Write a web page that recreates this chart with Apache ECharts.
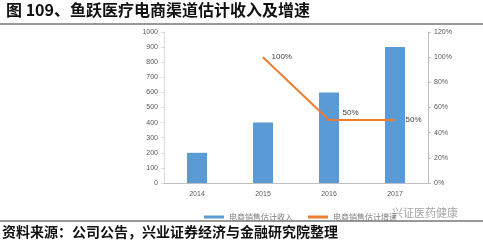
<!DOCTYPE html>
<html><head><meta charset="utf-8">
<script src="https://cdn.jsdelivr.net/npm/echarts@6/dist/echarts.min.js"></script>
<style>html,body{margin:0;padding:0;background:#fff;}#c{width:483px;height:240px;}</style>
</head><body><div id="c"></div>
<script>
const categories = ['2014','2015','2016','2017'];
const revenue = [200, 400, 600, 900];
const growth = [null, 100, 50, 50];
const leftTicks = [0,100,200,300,400,500,600,700,800,900,1000];
const seriesNames = ['电商销售估计收入','电商销售估计增速'];
const titleText = '图 109、鱼跃医疗电商渠道估计收入及增速';
const sourceText = '资料来源：公司公告，兴业证券经济与金融研究院整理';

const labelOffsets = [[0,0],[3,0],[8,-7],[5,0]];
const growthData = growth.map((v, i) => ({value: v, label: {offset: labelOffsets[i]}}));

const chart = echarts.init(document.getElementById('c'));
chart.setOption({
  animation: false,
  backgroundColor: '#fff',
  title: [
    {text: titleText, left: 6, top: 2, padding: 0, textStyle: {fontFamily: 'Noto Sans CJK SC', fontSize: 16, fontWeight: 'bold', color: '#111'}},
    {text: sourceText, left: 2, top: 224, padding: 0, textStyle: {fontFamily: 'Noto Sans CJK SC', fontSize: 14, fontWeight: 'bold', color: '#111', lineHeight: 15}},
    {text: '兴证医药健康', left: 392, top: 207, padding: 0, textStyle: {fontFamily: 'Noto Sans CJK SC', fontSize: 11, fontWeight: 'normal', color: 'rgba(90,90,90,0.55)'}}
  ],
  graphic: [
    {type: 'line', shape: {x1: 0, y1: 24, x2: 483, y2: 24}, style: {stroke: '#333', lineWidth: 1}},
    {type: 'line', shape: {x1: 0, y1: 221, x2: 483, y2: 221}, style: {stroke: '#333', lineWidth: 1}}
  ],
  legend: {
    data: seriesNames, top: 208, left: 199, itemWidth: 20, itemHeight: 3, itemGap: 15,
    textStyle: {fontSize: 8, color: '#7f7f7f', fontFamily: 'Noto Sans CJK SC'},
    icon: 'rect'
  },
  grid: {left: 164, right: 55, top: 32, bottom: 57},
  xAxis: {
    type: 'category', data: categories,
    axisLine: {lineStyle: {color: '#bfbfbf'}}, axisTick: {show: false},
    axisLabel: {fontSize: 7, color: '#595959', margin: 8}
  },
  yAxis: [
    {type: 'value', min: 0, max: 1000, interval: 100, splitLine: {show: false},
     axisLine: {show: true, lineStyle: {color: '#d9d9d9'}}, axisTick: {show: true, length: 3, lineStyle: {color: '#d9d9d9'}},
     axisLabel: {fontSize: 7, color: '#595959', margin: 6, formatter: v => String(v)}},
    {type: 'value', min: 0, max: 120, interval: 20, splitLine: {show: false},
     axisLine: {show: true, lineStyle: {color: '#bfbfbf'}}, axisTick: {show: true, length: 3, lineStyle: {color: '#bfbfbf'}},
     axisLabel: {fontSize: 7, color: '#595959', margin: 6, formatter: '{value}%'}}
  ],
  series: [
    {name: seriesNames[0], type: 'bar', data: revenue, barWidth: 20, itemStyle: {color: '#5b9bd5'}},
    {name: seriesNames[1], type: 'line', yAxisIndex: 1, data: growthData, symbol: 'circle', symbolSize: 1, showSymbol: true,
     lineStyle: {color: '#ed7d31', width: 2}, itemStyle: {color: '#ed7d31'},
     label: {show: true, position: 'right', fontSize: 8, color: '#404040', formatter: '{c}%'}}
  ]
});
</script></body></html>
